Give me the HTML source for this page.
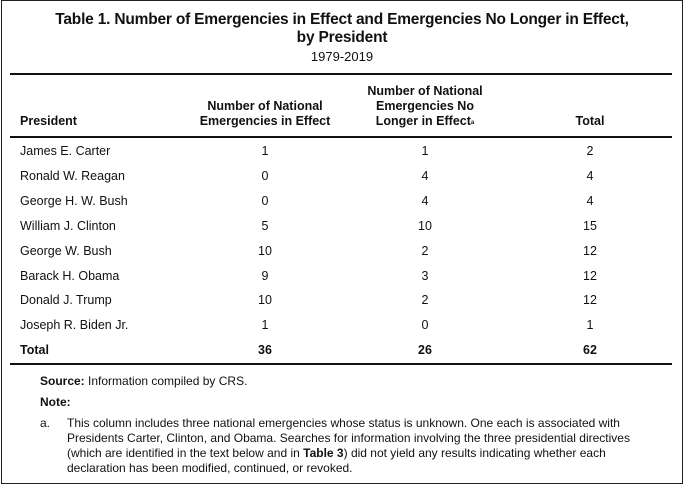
<!DOCTYPE html>
<html><head><meta charset="utf-8"><style>
body{margin:0;width:684px;height:484px;background:#fff;font-family:"Liberation Sans",sans-serif;color:#111;position:relative;overflow:hidden}
#frame{position:absolute;left:1px;top:0;width:680px;height:482px;border:1px solid #222}
.a{position:absolute;white-space:nowrap}
.c{transform:translateX(-50%);text-align:center}
.t{font-weight:bold;font-size:15.5px;letter-spacing:-0.2px}
.h{font-weight:bold;font-size:12.5px;line-height:15px}
.r{font-size:12.5px}
.rule{position:absolute;left:10px;width:662px;height:1.5px;background:#111}
.n{font-size:12px;line-height:15px}
sup{font-size:6px;line-height:0;vertical-align:baseline;position:relative;top:-1px}
</style></head><body>
<div id="frame"></div>
<div class="a c t" style="left:342px;top:11px">Table 1. Number of Emergencies in Effect and Emergencies No Longer in Effect,</div>
<div class="a c t" style="left:342px;top:29px">by President</div>
<div class="a c" style="left:342px;top:49px;font-size:13px">1979-2019</div>
<div class="rule" style="top:73px"></div>
<div class="a h" style="left:20px;top:114px">President</div>
<div class="a h c" style="left:265px;top:99px">Number of National<br>Emergencies in Effect</div>
<div class="a h c" style="left:425px;top:84px">Number of National<br>Emergencies No<br>Longer in Effect<sup>a</sup></div>
<div class="a h c" style="left:590px;top:114px">Total</div>
<div class="rule" style="top:136px"></div>
<div id="rows"></div>
<div class="rule" style="top:363px"></div>
<div class="a n" style="left:40px;top:374px"><b>Source:</b> Information compiled by CRS.</div>
<div class="a n" style="left:40px;top:395px;font-weight:bold">Note:</div>
<div class="a n" style="left:40px;top:416px">a.</div>
<div class="a n" style="left:67px;top:416px">This column includes three national emergencies whose status is unknown. One each is associated with<br>Presidents Carter, Clinton, and Obama. Searches for information involving the three presidential directives<br>(which are identified in the text below and in <b>Table 3</b>) did not yield any results indicating whether each<br>declaration has been modified, continued, or revoked.</div>
<script>
const presidents=["James E. Carter","Ronald W. Reagan","George H. W. Bush","William J. Clinton","George W. Bush","Barack H. Obama","Donald J. Trump","Joseph R. Biden Jr."];
const inEffect=[1,0,0,5,10,9,10,1];
const noLonger=[1,4,4,10,2,3,2,0];
const totals=[2,4,4,15,12,12,12,1];
const rows=document.getElementById('rows');
function cell(txt,x,y,center,bold){
  const d=document.createElement('div');
  d.className='a r'+(center?' c':'');
  d.style.left=x+'px';d.style.top=y+'px';
  if(bold)d.style.fontWeight='bold';
  d.textContent=txt;
  
  
  rows.appendChild(d);
}
presidents.forEach((p,i)=>{
  const y=144+i*24.9;
  cell(p,20,y,false,false);
  cell(String(inEffect[i]),265,y,true,false);
  cell(String(noLonger[i]),425,y,true,false);
  cell(String(totals[i]),590,y,true,false);
});
const sum=a=>a.reduce((s,v)=>s+v,0);
const ty=144+8*24.9;
cell("Total",20,ty,false,true);
cell(String(sum(inEffect)),265,ty,true,true);
cell(String(sum(noLonger)),425,ty,true,true);
cell(String(sum(totals)),590,ty,true,true);
</script>
</body></html>
